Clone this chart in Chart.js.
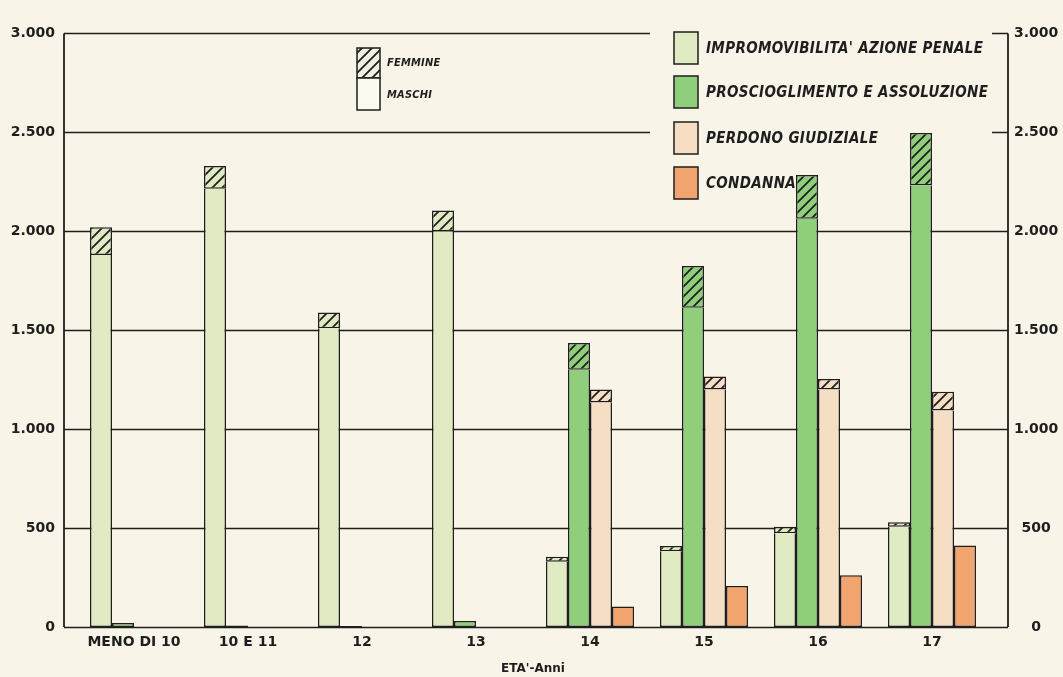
<!DOCTYPE html>
<html lang="it">
<head>
    <meta charset="UTF-8">
    <meta name="viewport" content="width=device-width, initial-scale=1.0">
    <title>Minori per età e provvedimento</title>
    <script src="https://cdn.jsdelivr.net/npm/chart.js@4.4.1/dist/chart.umd.min.js"></script>
    <style>
        body { margin: 0; background: #f8f4e7; }
        #grafico { display: block; background: #f8f4e7; }
    </style>
</head>
<body>
    <canvas id="grafico"></canvas>

    <script>
        const categorie = ['MENO DI 10', '10 E 11', '12', '13', '14', '15', '16', '17'];
        const tickValori = [0, 500, 1000, 1500, 2000, 2500, 3000];

        const nomiSerie = [
            "IMPROMOVIBILITA' AZIONE PENALE",
            'PROSCIOGLIMENTO E ASSOLUZIONE',
            'PERDONO GIUDIZIALE',
            'CONDANNA'
        ];
        const nomiSesso = ['FEMMINE', 'MASCHI'];
        const coloriSerie = ['#e1ebc3', '#8fcf7c', '#f6dec4', '#f1a46d'];

        // maschi (parte piena) e femmine (parte tratteggiata)
        const impromMaschi    = [1880, 2215, 1510, 2000, 330, 383, 474, 507];
        const impromFemmine   = [140, 115, 80, 105, 25, 26, 33, 23];
        const proscMaschi     = [20, 8, 5, 30, 1300, 1614, 2063, 2231];
        const proscFemmine    = [0, 0, 0, 0, 135, 210, 221, 266];
        const perdonoMaschi   = [0, 0, 0, 0, 1134, 1200, 1200, 1094];
        const perdonoFemmine  = [0, 0, 0, 0, 66, 66, 53, 95];
        const condannaMaschi  = [0, 0, 0, 0, 103, 207, 261, 412];
        const condannaFemmine = [0, 0, 0, 0, 0, 0, 0, 0];

        const FONT = '"DejaVu Sans", sans-serif';
        const FONT_LEG = '"DejaVu Sans Condensed", "DejaVu Sans", sans-serif';
        const INCHIOSTRO = '#1e1e1e';

        // cornice del grafico e zona della legenda (dove le righe si interrompono)
        const cornice = { left: 64, right: 1008 };
        const buco = { x: 650, y: 25, w: 342, h: 186 };

        function tratteggio(colore) {
            const s = 10;
            const c = document.createElement('canvas');
            c.width = s; c.height = s;
            const g = c.getContext('2d');
            g.fillStyle = colore;
            g.fillRect(0, 0, s, s);
            g.strokeStyle = INCHIOSTRO;
            g.lineWidth = 1.8;
            g.beginPath();
            g.moveTo(0, s); g.lineTo(s, 0);
            g.moveTo(-1, 1); g.lineTo(1, -1);
            g.moveTo(s - 1, s + 1); g.lineTo(s + 1, s - 1);
            g.stroke();
            return g.createPattern(c, 'repeat');
        }

        function formato(v) {
            return String(v).replace(/\B(?=(\d{3})+(?!\d))/g, '.');
        }

        // sopra = valori della parte che sta sopra (femmine): se c'e', il bordo
        // superiore lo disegna lei, cosi' la linea di separazione e' una sola
        function barra(label, dati, stack, colore, sopra) {
            return {
                label: label,
                data: dati,
                stack: stack,
                backgroundColor: colore,
                borderColor: INCHIOSTRO,
                borderWidth: 1.5,
                borderSkipped: function(c) {
                    return sopra && sopra[c.dataIndex] > 0 ? 'end' : false;
                }
            };
        }

        const righe = {
            id: 'righe',
            beforeDatasetsDraw(chart) {
                const ctx = chart.ctx;
                const y = chart.scales.y;
                ctx.save();
                ctx.beginPath();
                ctx.rect(0, 0, chart.width, chart.height);
                ctx.rect(buco.x, buco.y + buco.h, buco.w, -buco.h);
                ctx.clip('evenodd');
                ctx.strokeStyle = INCHIOSTRO;
                ctx.lineWidth = 1.6;
                y.ticks.forEach(function(t) {
                    const py = Math.round(y.getPixelForValue(t.value)) + 0.5;
                    ctx.beginPath();
                    ctx.moveTo(cornice.left, py);
                    ctx.lineTo(cornice.right, py);
                    ctx.stroke();
                });
                ctx.restore();
                ctx.save();
                ctx.strokeStyle = INCHIOSTRO;
                ctx.lineWidth = 1.8;
                const yTop = y.getPixelForValue(y.max);
                const yBot = y.getPixelForValue(y.min);
                [cornice.left, cornice.right].forEach(function(px) {
                    ctx.beginPath();
                    ctx.moveTo(px, yTop);
                    ctx.lineTo(px, yBot);
                    ctx.stroke();
                });
                ctx.restore();
            }
        };

        // le due legende disegnate a mano, sotto le barre
        const legende = {
            id: 'legende',
            beforeDatasetsDraw(chart) {
                const ctx = chart.ctx;
                ctx.save();
                ctx.lineWidth = 1.5;
                ctx.strokeStyle = INCHIOSTRO;
                ctx.textBaseline = 'middle';

                // maschi / femmine
                ctx.fillStyle = tratteggio('#f1f0e2');
                ctx.fillRect(357, 48, 23, 30);
                ctx.strokeRect(357, 48, 23, 30);
                ctx.fillStyle = '#fbf9f0';
                ctx.fillRect(357, 78, 23, 32);
                ctx.strokeRect(357, 78, 23, 32);
                ctx.fillStyle = INCHIOSTRO;
                if ('letterSpacing' in ctx) ctx.letterSpacing = '0.2px';
                ctx.font = 'italic bold 11px ' + FONT_LEG;
                ctx.fillText(nomiSesso[0], 387, 63);
                ctx.fillText(nomiSesso[1], 387, 95);

                // tipi di provvedimento
                const topBox = [32, 76, 122, 167];
                if ('letterSpacing' in ctx) ctx.letterSpacing = '0.35px';
                ctx.font = 'italic bold 15px ' + FONT_LEG;
                nomiSerie.forEach(function(nome, i) {
                    ctx.fillStyle = coloriSerie[i];
                    ctx.fillRect(674, topBox[i], 24, 32);
                    ctx.strokeRect(674, topBox[i], 24, 32);
                    ctx.fillStyle = INCHIOSTRO;
                    ctx.fillText(nome, 706, topBox[i] + 17);
                });
                ctx.restore();
            }
        };

        const canvas = document.getElementById('grafico');
        canvas.width = 1063;
        canvas.height = 677;

        const assiY = {
            min: 0,
            max: 3000,
            afterBuildTicks: function(s) { s.ticks = tickValori.map(v => ({ value: v })); },
            grid: { display: false, drawTicks: false },
            border: { display: false },
        };

        new Chart(canvas, {
            type: 'bar',
            data: {
                labels: categorie,
                datasets: [
                    barra('Maschi', impromMaschi, 'imp', coloriSerie[0], impromFemmine),
                    barra('Femmine', impromFemmine, 'imp', tratteggio(coloriSerie[0]), null),
                    barra('Maschi', proscMaschi, 'pro', coloriSerie[1], proscFemmine),
                    barra('Femmine', proscFemmine, 'pro', tratteggio(coloriSerie[1]), null),
                    barra('Maschi', perdonoMaschi, 'per', coloriSerie[2], perdonoFemmine),
                    barra('Femmine', perdonoFemmine, 'per', tratteggio(coloriSerie[2]), null),
                    barra('Maschi', condannaMaschi, 'con', coloriSerie[3], condannaFemmine),
                    barra('Femmine', condannaFemmine, 'con', tratteggio(coloriSerie[3]), null)
                ]
            },
            options: {
                responsive: false,
                animation: false,
                layout: { padding: { top: 18, left: 0, right: 0, bottom: 0 } },
                datasets: { bar: { barPercentage: 1, categoryPercentage: 0.772 } },
                plugins: { legend: { display: false }, tooltip: { enabled: false } },
                scales: {
                    x: {
                        stacked: true,
                        grid: { display: false, drawTicks: false },
                        border: { display: false },
                        afterFit: function(s) { s.height = 50; },
                        ticks: {
                            color: INCHIOSTRO,
                            font: { family: FONT, size: 14, weight: 'bold' },
                            padding: 7,
                            maxRotation: 0,
                            autoSkip: false
                        },
                        title: {
                            display: true,
                            text: "ETA'-Anni",
                            color: INCHIOSTRO,
                            font: { family: FONT, size: 12, weight: 'bold' },
                            padding: { top: 0, bottom: 1 }
                        }
                    },
                    y: Object.assign({}, assiY, {
                        stacked: true,
                        position: 'left',
                        afterFit: function(s) { s.width = 77; },
                        ticks: {
                            color: INCHIOSTRO,
                            font: { family: FONT, size: 14, weight: 'bold' },
                            padding: 22,
                            callback: formato
                        }
                    }),
                    y2: Object.assign({}, assiY, {
                        display: true,
                        position: 'right',
                        afterFit: function(s) { s.width = 74; },
                        ticks: {
                            color: INCHIOSTRO,
                            font: { family: FONT, size: 14, weight: 'bold' },
                            padding: 25,
                            crossAlign: 'center',
                            callback: formato
                        }
                    })
                }
            },
            plugins: [righe, legende]
        });
    </script>
</body>
</html>
